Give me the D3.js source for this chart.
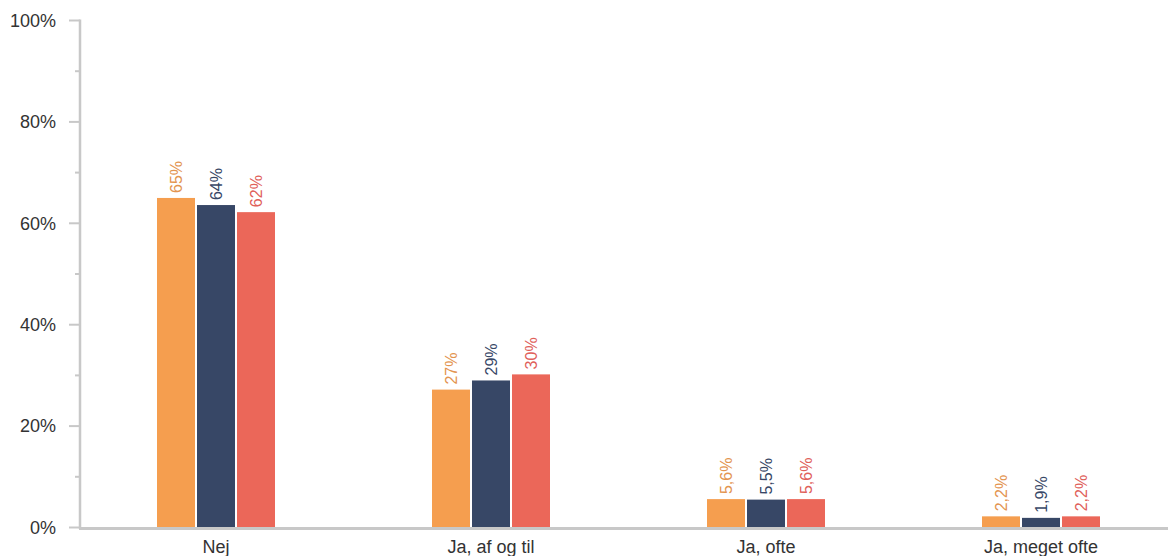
<!DOCTYPE html>
<html><head><meta charset="utf-8">
<script src="https://cdn.jsdelivr.net/npm/d3@7"></script>
<style>body{margin:0;background:#fff}svg{display:block;font-family:"Liberation Sans",Arial,sans-serif}</style>
</head><body><svg id="c" width="1168" height="556"></svg>
<script>
const categories = ["Nej", "Ja, af og til", "Ja, ofte", "Ja, meget ofte"];
const seriesNames = ["A", "B", "C"];
const seriesA = [65, 27.2, 5.6, 2.2];
const seriesB = [63.6, 29.0, 5.5, 1.9];
const seriesC = [62.2, 30.2, 5.6, 2.2];
const colors = ["#F59E4F", "#374766", "#EB6759"];
const labelColors = ["#E39450", "#374766", "#E0605A"];
const yTicks = [0, 20, 40, 60, 80, 100];
const yMinor = [10, 30, 50, 70, 90];

const series = [seriesA, seriesB, seriesC];
const svg = d3.select("#c");
const y = d3.scaleLinear().domain([0, 100]).range([527.5, 20.5]);
const x = d3.scaleBand().domain(categories).range([78.5, 1178.5]);
const xs = d3.scaleBand().domain(seriesNames).range([0, 118]).paddingInner(0.05);

const fmt = v => v >= 10 ? Math.round(v) + "%" : v.toFixed(1).replace(".", ",") + "%";

// bars
categories.forEach((c, i) => {
  const g = svg.append("g").attr("transform", `translate(${x(c) + x.bandwidth()/2 - 59},0)`);
  seriesNames.forEach((s, j) => {
    const v = series[j][i];
    g.append("rect").attr("x", xs(s)).attr("y", y(v)).attr("width", xs.bandwidth())
      .attr("height", y(0) - y(v)).attr("fill", colors[j]);
    g.append("text").attr("transform", `translate(${xs(s) + xs.bandwidth()/2 + 5.5},${y(v) - 5}) rotate(-90)`)
      .attr("font-size", 16).attr("fill", labelColors[j]).text(fmt(v));
  });
});

// y axis
const axisColor = "#c8c8c8";
svg.append("line").attr("x1", 80).attr("x2", 80).attr("y1", y(100) - 1).attr("y2", y(0) + 1.5)
  .attr("stroke", axisColor).attr("stroke-width", 2.5);
yTicks.forEach(t => {
  svg.append("line").attr("x1", 69).attr("x2", 80).attr("y1", y(t)).attr("y2", y(t)).attr("stroke", axisColor).attr("stroke-width", 2);
  svg.append("text").attr("x", 56).attr("y", y(t)).attr("dy", "0.35em").attr("text-anchor", "end")
    .attr("font-size", 18).attr("fill", "#333").text(t + "%");
});
yMinor.forEach(t => {
  svg.append("line").attr("x1", 75).attr("x2", 80).attr("y1", y(t)).attr("y2", y(t)).attr("stroke", axisColor).attr("stroke-width", 2);
});
// x axis
svg.append("line").attr("x1", 79).attr("x2", 1168).attr("y1", y(0) + 1).attr("y2", y(0) + 1)
  .attr("stroke", axisColor).attr("stroke-width", 3);
categories.forEach(c => {
  svg.append("text").attr("x", x(c) + x.bandwidth()/2).attr("y", 552.5).attr("text-anchor", "middle")
    .attr("font-size", 18).attr("fill", "#333").text(c);
});
</script></body></html>
